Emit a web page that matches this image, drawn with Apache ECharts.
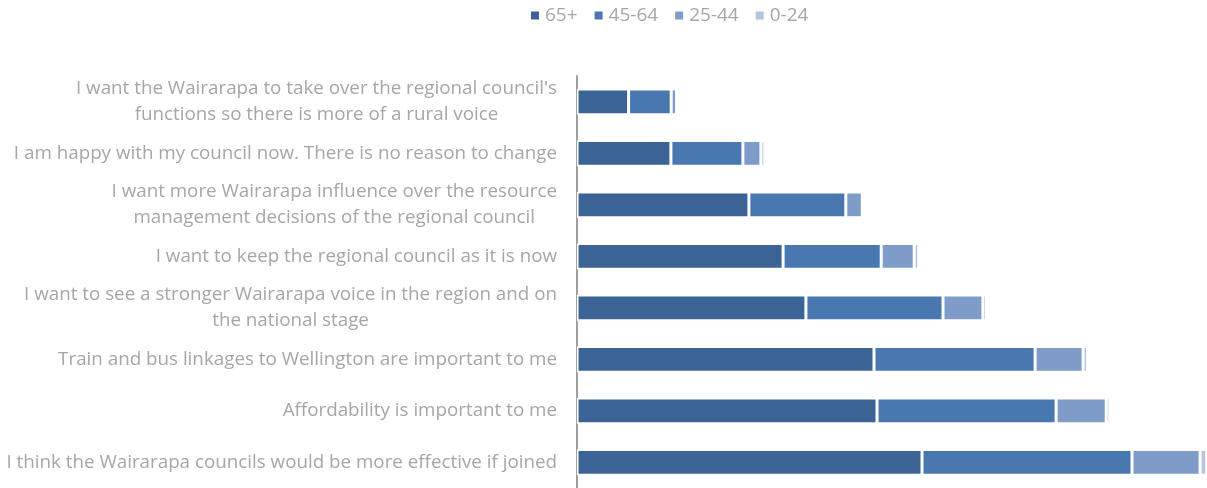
<!DOCTYPE html>
<html>
<head>
<meta charset="utf-8">
<script src="https://cdn.jsdelivr.net/npm/echarts@6/dist/echarts.min.js"></script>
<style>
  html, body { margin: 0; padding: 0; background: #fff; }
  #chart { width: 1207px; height: 488px; }
</style>
</head>
<body>
<div id="chart"></div>
<script>
// Survey statements, top to bottom; "\n" marks a wrapped line
const categories = [
  "I want the Wairarapa to take over the regional council's\nfunctions so there is more of a rural voice",
  "I am happy with my council now. There is no reason to change",
  "I want more Wairarapa influence over the resource\nmanagement decisions of the regional council",
  "I want to keep the regional council as it is now",
  "I want to see a stronger Wairarapa voice in the region and on\nthe national stage",
  "Train and bus linkages to Wellington are important to me",
  "Affordability is important to me",
  "I think the Wairarapa councils would be more effective if joined"
];

// Responses by age group, same order as categories
const age65plus = [17.2, 31.3, 57.3, 68.7, 76.3, 99.0, 100.0, 115.0];
const age45to64 = [14.2, 24.0, 32.3, 32.7, 45.7, 53.7, 59.7, 70.0];
const age25to44 = [1.8, 6.0, 5.5, 11.0, 13.3, 16.0, 16.7, 22.7];
const age0to24  = [0, 1.3, 0, 1.5, 1.2, 1.5, 1.2, 2.2];

const seriesNames = ['65+', '45-64', '25-44', '0-24'];
const seriesData = [age65plus, age45to64, age25to44, age0to24];
const colors = ['#3B6395', '#4878AF', '#7F9CC8', '#B3C3E0'];

const textGray = '#A6A6A6';
const fontFamily = '"Open Sans", sans-serif';
const labelSize = 18.8;

// Each line is its own rich token so wrapped lines centre on each other
function labelFormatter(value) {
  return value.split('\n').map(function (line) { return '{c|' + line + '}'; }).join('\n');
}

const chart = echarts.init(document.getElementById('chart'), null, { renderer: 'canvas' });

chart.setOption({
  animation: false,
  color: colors,
  legend: {
    top: 1,
    left: 524,
    icon: 'rect',
    itemWidth: 10,
    itemHeight: 10,
    itemGap: 15,
    textStyle: { color: textGray, fontSize: 19, fontFamily: fontFamily },
    data: seriesNames
  },
  grid: {
    left: 577,
    right: 0,
    top: 76,
    bottom: -4.5,
    containLabel: false
  },
  xAxis: {
    type: 'value',
    min: 0,
    max: 210,
    show: false
  },
  yAxis: {
    type: 'category',
    inverse: true,
    data: categories,
    axisLine: { show: true, lineStyle: { color: '#A0A0A0', width: 2 } },
    axisTick: { show: false },
    axisLabel: {
      margin: 20,
      align: 'right',
      color: textGray,
      fontSize: labelSize,
      fontFamily: fontFamily,
      formatter: labelFormatter,
      rich: {
        c: {
          align: 'center',
          color: textGray,
          fontSize: labelSize,
          fontFamily: fontFamily,
          lineHeight: 26
        }
      }
    }
  },
  series: seriesNames.map(function (name, i) {
    return {
      name: name,
      type: 'bar',
      stack: 'total',
      barWidth: '50%',
      data: seriesData[i],
      itemStyle: { borderColor: '#ffffff', borderWidth: 1.5 }
    };
  })
});
</script>
</body>
</html>
